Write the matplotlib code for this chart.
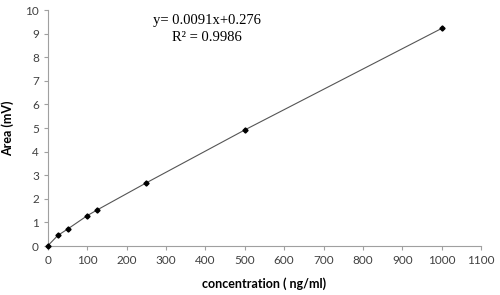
import matplotlib
matplotlib.use("Agg")
import matplotlib.pyplot as plt

# calibration data
concentration = [0, 25, 50, 100, 125, 250, 500, 1000]
area = [0.02, 0.45, 0.72, 1.29, 1.53, 2.68, 4.92, 9.22]

x_ticks = list(range(0, 1101, 100))
y_ticks = list(range(0, 11))

plt.rcParams['font.family'] = ['Lato', 'DejaVu Sans']

fig = plt.figure(figsize=(5, 2.95), dpi=100)
ax = fig.add_axes([0.096, 0.166, 0.866, 0.8])

ax.plot(concentration, area, color='#555555', lw=0.8, marker='D', ms=2.6,
        mfc='black', mec='black', clip_on=False, zorder=3)

ax.set_xlim(0, 1100)
ax.set_ylim(0, 10)
ax.set_xticks(x_ticks)
ax.set_yticks(y_ticks)

for s in ['top', 'right']:
    ax.spines[s].set_visible(False)
for s in ['left', 'bottom']:
    ax.spines[s].set_color('#a0a0a0')
    ax.spines[s].set_linewidth(0.8)
ax.tick_params(colors='#a0a0a0', labelcolor='#404040', labelsize=8.5,
               length=3, width=0.8)

ax.set_xlabel('concentration ( ng/ml)', fontsize=9, fontweight='bold', labelpad=8)
ax.set_ylabel('Area (mV)', fontsize=9, fontweight='bold', labelpad=8)

ax.text(404, 9.2, 'y= 0.0091x+0.276\nR² = 0.9986', ha='center', va='center',
        fontsize=10.5, family='Liberation Serif', linespacing=1.45)

fig.savefig('out.png', dpi=100)
